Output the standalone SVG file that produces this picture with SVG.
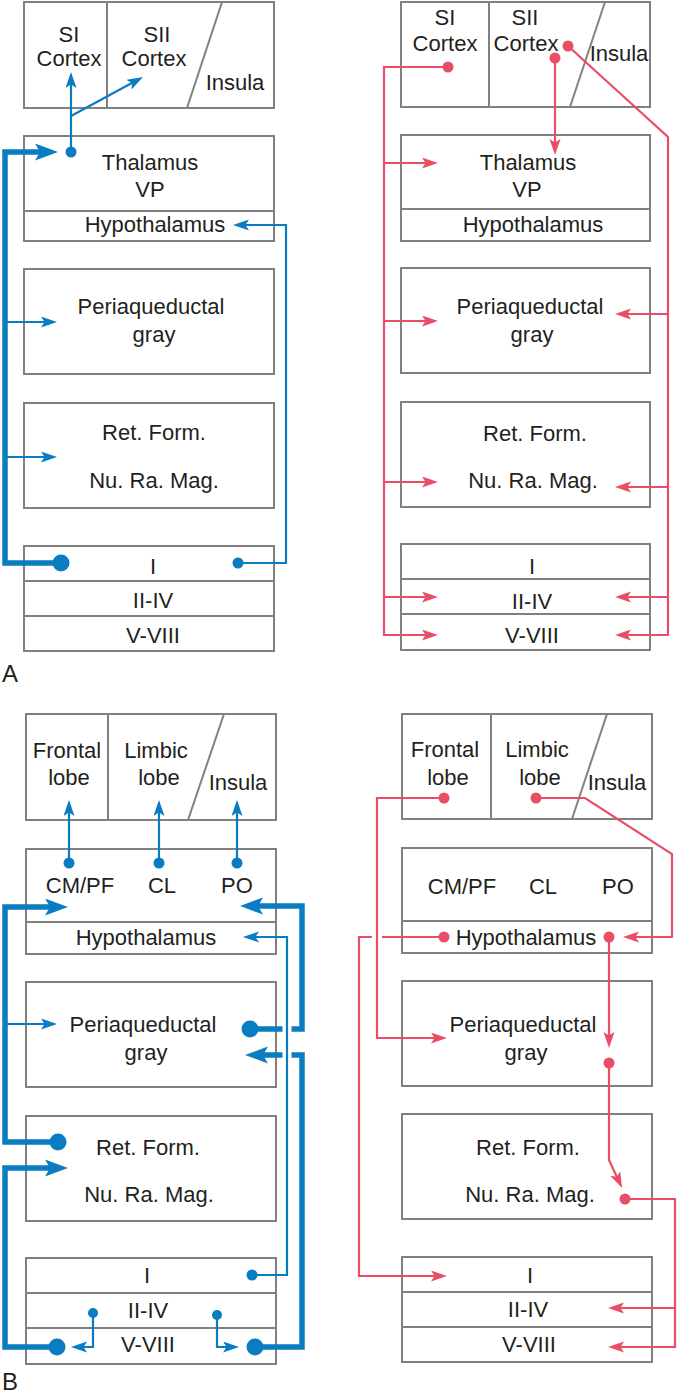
<svg xmlns="http://www.w3.org/2000/svg" width="677" height="1400" viewBox="0 0 677 1400">
<style>
.box{fill:#fff;stroke:#808080;stroke-width:2}
.ln{stroke:#808080;stroke-width:2;fill:none}
.t{font-family:"Liberation Sans",Arial,sans-serif;font-size:22px;fill:#231f20;text-anchor:middle}
.lbl{font-family:"Liberation Sans",Arial,sans-serif;font-size:24px;fill:#231f20}
.b{stroke:#0a7cc1;stroke-width:2.2;fill:none}
.bk{stroke:#0a7cc1;stroke-width:5.5;fill:none}
.r{stroke:#e94e66;stroke-width:2.2;fill:none}
.bd{fill:#0a7cc1}
.rd{fill:#e94e66}
.gap{stroke:#fff;fill:none}
</style>
<defs>
<marker id="ab" markerUnits="userSpaceOnUse" markerWidth="18" markerHeight="13" refX="6" refY="5.5" orient="auto"><path d="M0,0 L16,5.5 L0,11 L3.5,5.5 z" fill="#0a7cc1"/></marker>
<marker id="abk" markerUnits="userSpaceOnUse" markerWidth="26" markerHeight="19" refX="7" refY="8.5" orient="auto"><path d="M0,0 L23,8.5 L0,17 L5,8.5 z" fill="#0a7cc1"/></marker>
<marker id="ar" markerUnits="userSpaceOnUse" markerWidth="18" markerHeight="13" refX="6" refY="5.5" orient="auto"><path d="M0,0 L16,5.5 L0,11 L3.5,5.5 z" fill="#e94e66"/></marker>
</defs>

<!-- Panel A left -->
<g id="A-L-cortex">
<rect class="box" x="24" y="2" width="250" height="106"/>
<line class="ln" x1="107" y1="2" x2="107" y2="108"/>
<line class="ln" x1="222" y1="2" x2="187" y2="108"/>
<text class="t" x="69" y="42">SI</text><text class="t" x="69" y="66">Cortex</text>
<text class="t" x="157" y="42">SII</text><text class="t" x="154" y="66">Cortex</text>
<text class="t" x="235" y="90">Insula</text>
</g>
<g id="A-L-thalamus">
<rect class="box" x="24" y="136" width="250" height="105"/>
<line class="ln" x1="24" y1="211" x2="274" y2="211"/>
<text class="t" x="150" y="170">Thalamus</text><text class="t" x="150" y="197">VP</text>
<text class="t" x="155" y="232">Hypothalamus</text>
</g>
<g id="A-L-pag">
<rect class="box" x="24" y="269" width="250" height="105"/>
<text class="t" x="151" y="314">Periaqueductal</text><text class="t" x="154" y="342">gray</text>
</g>
<g id="A-L-rf">
<rect class="box" x="24" y="403" width="250" height="105"/>
<text class="t" x="154" y="440">Ret. Form.</text><text class="t" x="154" y="488">Nu. Ra. Mag.</text>
</g>
<g id="A-L-spinal">
<rect class="box" x="24" y="546" width="250" height="105"/>
<line class="ln" x1="24" y1="581" x2="274" y2="581"/>
<line class="ln" x1="24" y1="616" x2="274" y2="616"/>
<text class="t" x="153" y="574">I</text><text class="t" x="153" y="608">II-IV</text><text class="t" x="153" y="643">V-VIII</text>
</g>

<!-- Panel A right -->
<g id="A-R-cortex">
<rect class="box" x="401" y="2" width="249" height="105"/>
<line class="ln" x1="489" y1="2" x2="489" y2="107"/>
<line class="ln" x1="605" y1="2" x2="570" y2="107"/>
<text class="t" x="445" y="25">SI</text><text class="t" x="445" y="51">Cortex</text>
<text class="t" x="525" y="25">SII</text><text class="t" x="526" y="51">Cortex</text>
<text class="t" x="619" y="61">Insula</text>
</g>
<g id="A-R-thalamus">
<rect class="box" x="401" y="135" width="249" height="106"/>
<line class="ln" x1="401" y1="209" x2="650" y2="209"/>
<text class="t" x="528" y="170">Thalamus</text><text class="t" x="527" y="197">VP</text>
<text class="t" x="533" y="232">Hypothalamus</text>
</g>
<g id="A-R-pag">
<rect class="box" x="401" y="268" width="249" height="105"/>
<text class="t" x="530" y="314">Periaqueductal</text><text class="t" x="532" y="342">gray</text>
</g>
<g id="A-R-rf">
<rect class="box" x="401" y="402" width="249" height="105"/>
<text class="t" x="535" y="441">Ret. Form.</text><text class="t" x="533" y="488">Nu. Ra. Mag.</text>
</g>
<g id="A-R-spinal">
<rect class="box" x="401" y="544" width="249" height="106"/>
<line class="ln" x1="401" y1="579" x2="650" y2="579"/>
<line class="ln" x1="401" y1="614" x2="650" y2="614"/>
<text class="t" x="532" y="574">I</text><text class="t" x="532" y="609">II-IV</text><text class="t" x="532" y="643">V-VIII</text>
</g>

<!-- Panel B left -->
<g id="B-L-cortex">
<rect class="box" x="26" y="714" width="250" height="106"/>
<line class="ln" x1="108" y1="714" x2="108" y2="820"/>
<line class="ln" x1="224" y1="714" x2="188" y2="820"/>
<text class="t" x="67" y="758">Frontal</text><text class="t" x="69" y="785">lobe</text>
<text class="t" x="156" y="758">Limbic</text><text class="t" x="159" y="785">lobe</text>
<text class="t" x="238" y="790">Insula</text>
</g>
<g id="B-L-thalamus">
<rect class="box" x="26" y="849" width="250" height="105"/>
<line class="ln" x1="26" y1="922" x2="276" y2="922"/>
<text class="t" x="80" y="893">CM/PF</text><text class="t" x="162" y="893">CL</text><text class="t" x="237" y="893">PO</text>
<text class="t" x="146" y="945">Hypothalamus</text>
</g>
<g id="B-L-pag">
<rect class="box" x="26" y="982" width="250" height="105"/>
<text class="t" x="143" y="1032">Periaqueductal</text><text class="t" x="146" y="1060">gray</text>
</g>
<g id="B-L-rf">
<rect class="box" x="26" y="1116" width="250" height="105"/>
<text class="t" x="148" y="1155">Ret. Form.</text><text class="t" x="149" y="1202">Nu. Ra. Mag.</text>
</g>
<g id="B-L-spinal">
<rect class="box" x="26" y="1258" width="250" height="106"/>
<line class="ln" x1="26" y1="1293" x2="276" y2="1293"/>
<line class="ln" x1="26" y1="1328" x2="276" y2="1328"/>
<text class="t" x="147" y="1283">I</text><text class="t" x="148" y="1318">II-IV</text><text class="t" x="148" y="1352">V-VIII</text>
</g>

<!-- Panel B right -->
<g id="B-R-cortex">
<rect class="box" x="402" y="714" width="250" height="105"/>
<line class="ln" x1="491" y1="714" x2="491" y2="819"/>
<line class="ln" x1="607" y1="714" x2="572" y2="819"/>
<text class="t" x="445" y="757">Frontal</text><text class="t" x="448" y="785">lobe</text>
<text class="t" x="537" y="757">Limbic</text><text class="t" x="540" y="785">lobe</text>
<text class="t" x="617" y="790">Insula</text>
</g>
<g id="B-R-thalamus">
<rect class="box" x="402" y="848" width="250" height="105"/>
<line class="ln" x1="402" y1="921" x2="652" y2="921"/>
<text class="t" x="462" y="894">CM/PF</text><text class="t" x="543" y="894">CL</text><text class="t" x="618" y="894">PO</text>
<text class="t" x="526" y="945">Hypothalamus</text>
</g>
<g id="B-R-pag">
<rect class="box" x="402" y="981" width="250" height="105"/>
<text class="t" x="523" y="1032">Periaqueductal</text><text class="t" x="526" y="1060">gray</text>
</g>
<g id="B-R-rf">
<rect class="box" x="402" y="1114" width="250" height="105"/>
<text class="t" x="528" y="1155">Ret. Form.</text><text class="t" x="530" y="1202">Nu. Ra. Mag.</text>
</g>
<g id="B-R-spinal">
<rect class="box" x="402" y="1257" width="250" height="105"/>
<line class="ln" x1="402" y1="1292" x2="652" y2="1292"/>
<line class="ln" x1="402" y1="1327" x2="652" y2="1327"/>
<text class="t" x="530" y="1283">I</text><text class="t" x="528" y="1317">II-IV</text><text class="t" x="529" y="1352">V-VIII</text>
</g>

<g id="labels">
<text class="lbl" x="2" y="682">A</text>
<text class="lbl" x="2" y="1390">B</text>
</g>

<g id="connectors">
<!-- A left blue -->
<path class="b" d="M71,152 V82" marker-end="url(#ab)"/>
<path class="b" d="M71,116 L134.2,81.8" marker-end="url(#ab)"/>
<circle class="bd" cx="71" cy="152" r="5.5"/>
<path class="bk" d="M61,563 H5 V152 H42" marker-end="url(#abk)"/>
<circle class="bd" cx="61" cy="563" r="8.5"/>
<path class="b" d="M5,322 H47" marker-end="url(#ab)"/>
<path class="b" d="M5,457 H47" marker-end="url(#ab)"/>
<path class="b" d="M238,563 H286 V225 H243" marker-end="url(#ab)"/>
<circle class="bd" cx="238" cy="563" r="5.5"/>

<!-- A right red -->
<path class="r" d="M448,67 H384 V635 H428" marker-end="url(#ar)"/>
<path class="r" d="M384,163 H428" marker-end="url(#ar)"/>
<path class="r" d="M384,321 H428" marker-end="url(#ar)"/>
<path class="r" d="M384,482 H428" marker-end="url(#ar)"/>
<path class="r" d="M384,597 H428" marker-end="url(#ar)"/>
<circle class="rd" cx="448" cy="67" r="5.5"/>
<path class="r" d="M555,58 V145" marker-end="url(#ar)"/>
<circle class="rd" cx="555" cy="58" r="5.5"/>
<path class="r" d="M568,46 L668,137 V635 H625" marker-end="url(#ar)"/>
<path class="r" d="M668,314 H625" marker-end="url(#ar)"/>
<path class="r" d="M668,487 H625" marker-end="url(#ar)"/>
<path class="r" d="M668,597 H625" marker-end="url(#ar)"/>
<circle class="rd" cx="568" cy="46" r="5.5"/>

<!-- B left blue -->
<path class="b" d="M69,863 V810" marker-end="url(#ab)"/>
<circle class="bd" cx="69" cy="863" r="5.5"/>
<path class="b" d="M159,863 V810" marker-end="url(#ab)"/>
<circle class="bd" cx="159" cy="863" r="5.5"/>
<path class="b" d="M237,863 V810" marker-end="url(#ab)"/>
<circle class="bd" cx="237" cy="863" r="5.5"/>
<path class="bk" d="M58,1142 H5 V907 H52" marker-end="url(#abk)"/>
<circle class="bd" cx="58" cy="1142" r="8.5"/>
<path class="b" d="M5,1024 H47" marker-end="url(#ab)"/>
<path class="bk" d="M57,1347 H5 V1168 H52" marker-end="url(#abk)"/>
<circle class="bd" cx="57" cy="1347" r="8.5"/>
<path class="b" d="M93,1313 V1347 H81" marker-end="url(#ab)"/>
<circle class="bd" cx="93" cy="1313" r="5"/>
<path class="b" d="M217,1315 V1347 H229" marker-end="url(#ab)"/>
<circle class="bd" cx="217" cy="1315" r="5"/>
<path class="bk" d="M250,1029 H302 V906 H256" marker-end="url(#abk)"/>
<circle class="bd" cx="250" cy="1029" r="8.5"/>
<path class="bk" d="M255,1347 H302 V1055 H261" marker-end="url(#abk)"/>
<circle class="bd" cx="255" cy="1347" r="8.5"/>
<path class="gap" stroke-width="9" d="M287,1021 V1037 M287,1047 V1063"/>
<path class="b" d="M252,1275 H287 V937 H253" marker-end="url(#ab)"/>
<circle class="bd" cx="252" cy="1275" r="5.5"/>

<!-- B right red -->
<path class="r" d="M444,937 H359 V1276 H437" marker-end="url(#ar)"/>
<circle class="rd" cx="444" cy="937" r="5.5"/>
<path class="gap" stroke-width="10" d="M377,931 V943"/>
<path class="r" d="M444,798 H377 V1038 H437" marker-end="url(#ar)"/>
<circle class="rd" cx="444" cy="798" r="5.5"/>
<path class="r" d="M536,798 H585 L672,854 V937 H633" marker-end="url(#ar)"/>
<circle class="rd" cx="536" cy="798" r="5.5"/>
<path class="r" d="M609,937 V1038" marker-end="url(#ar)"/>
<circle class="rd" cx="609" cy="937" r="5.5"/>
<path class="r" d="M609,1063 V1160 L617.8,1178.9" marker-end="url(#ar)"/>
<circle class="rd" cx="609" cy="1063" r="5.5"/>
<path class="r" d="M625,1199 H675 V1347 H618" marker-end="url(#ar)"/>
<path class="r" d="M675,1308 H618" marker-end="url(#ar)"/>
<circle class="rd" cx="625" cy="1199" r="5.5"/>
</g>
</svg>
